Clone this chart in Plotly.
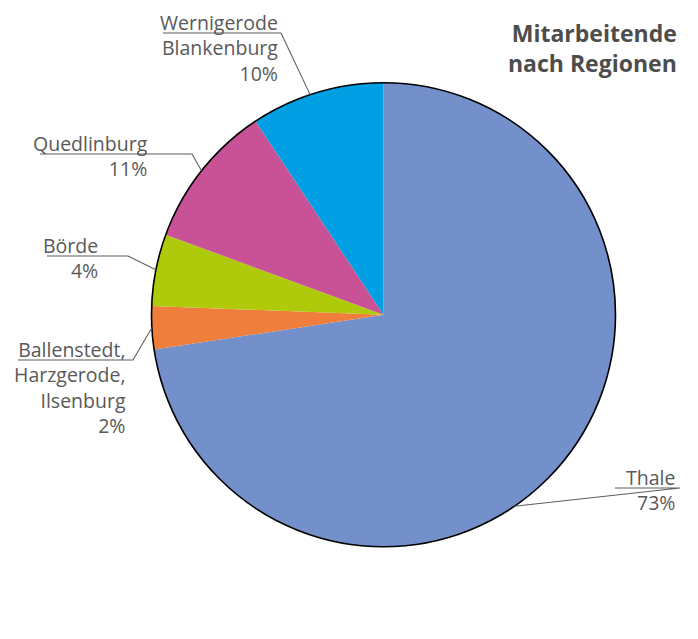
import math
import plotly.graph_objects as go

# ---- data ----
regions = ["Thale", "Ballenstedt, Harzgerode, Ilsenburg", "Börde", "Quedlinburg", "Wernigerode Blankenburg"]
shares = [72.6, 3.0, 5.0, 10.1, 9.3]
label_texts = ["Thale", "Ballenstedt,<br>Harzgerode,<br>Ilsenburg", "Börde", "Quedlinburg", "Wernigerode<br>Blankenburg"]
pct_labels = ["73%", "2%", "4%", "11%", "10%"]
colors = ["#7490CA", "#EF7D3B", "#AFCA0B", "#C95196", "#009FE3"]
title_lines = ["Mitarbeitende", "nach Regionen"]

W, H = 698, 639
CX, CY, R = 383.5, 314.7, 232.0

def px(x):
    return x / W

def py(y):
    return 1 - y / H

fig = go.Figure()
dom = dict(x=[px(CX - R), px(CX + R)], y=[py(CY + R), py(CY - R)])
fig.add_trace(go.Pie(
    labels=regions, values=shares, sort=False, direction="clockwise", rotation=0,
    marker=dict(colors=colors, line=dict(width=0)),
    textinfo="none", hoverinfo="label+percent", domain=dom, showlegend=False,
))
# outer outline
fig.add_trace(go.Pie(
    labels=["outline"], values=[1], sort=False, textinfo="none", hoverinfo="skip",
    marker=dict(colors=["rgba(0,0,0,0)"], line=dict(color="black", width=1.6)),
    domain=dom, showlegend=False,
))

# label layout: (text right edge, underline y, underline start x, elbow x, anchor angle shift deg)
label_layout = [
    (677, 488, 615, 680, 15.0),
    (128, 360, 18, 133, 0),
    (100, 256, 47, 128, 0),
    (150, 154, 40, 192, 0),
    (280, 33, 163, 281, -1.7),
]

total = sum(shares)
cum = 0
annotations = []
shapes = []
for i, v in enumerate(shares):
    mid = (cum + v / 2) / total * 360
    cum += v
    rx, uy, ux0, ex, shift = label_layout[i]
    ang = math.radians(mid + shift)
    endx = CX + R * math.sin(ang)
    endy = CY - R * math.cos(ang)
    shapes.append(dict(
        type="path", xref="paper", yref="paper",
        path=f"M {px(ux0)} {py(uy)} L {px(ex)} {py(uy)} L {px(endx)} {py(endy)}",
        line=dict(color="#5E5E5E", width=1.1),
    ))
    annotations.append(dict(
        x=px(rx), y=py(uy - 26), xref="paper", yref="paper",
        xanchor="right", yanchor="top", align="right", showarrow=False,
        text=label_texts[i] + "<br>" + pct_labels[i],
        font=dict(family="Open Sans", size=19.5, color="#595959"),
    ))

annotations.append(dict(
    x=px(679), y=py(15), xref="paper", yref="paper",
    xanchor="right", yanchor="top", align="right", showarrow=False,
    text="<b>" + "<br>".join(title_lines) + "</b>",
    font=dict(family="Open Sans", size=23, color="#4D4D4D"),
))

fig.update_layout(
    width=W, height=H, margin=dict(l=0, r=0, t=0, b=0),
    paper_bgcolor="white", plot_bgcolor="white",
    annotations=annotations, shapes=shapes,
)

fig.write_html("out.html", config={"displayModeBar": False},
               post_script="document.body.style.margin='0';")
